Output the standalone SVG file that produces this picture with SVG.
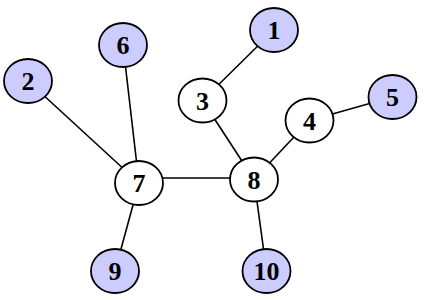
<svg xmlns="http://www.w3.org/2000/svg" width="424" height="300" viewBox="0 0 424 300">
<style>
.e{stroke:#000;stroke-width:1.6;fill:none}
.n ellipse{stroke:#000;stroke-width:1.8;fill:#fff}
.n.b ellipse{fill:#ccccff}
.n text{font-family:"Liberation Serif",serif;font-weight:bold;font-size:26px;text-anchor:middle}
</style>
<rect width="424" height="300" fill="#fff"/>
<g id="edges">
<line class="e" x1="28" y1="81" x2="139" y2="183"/>
<line class="e" x1="123" y1="45" x2="139" y2="183"/>
<line class="e" x1="274" y1="30" x2="202.5" y2="100.5"/>
<line class="e" x1="202.5" y1="100.5" x2="254" y2="179.5"/>
<line class="e" x1="139" y1="178" x2="254" y2="178"/>
<line class="e" x1="309.5" y1="120.5" x2="254" y2="179.5"/>
<line class="e" x1="309.5" y1="120.5" x2="392.5" y2="97"/>
<line class="e" x1="139" y1="183" x2="115" y2="271"/>
<line class="e" x1="254" y1="179.5" x2="266.5" y2="271"/>
</g>
<g id="n1" class="n b"><ellipse cx="274" cy="30" rx="24" ry="22"/><text x="274" y="39">1</text></g>
<g id="n2" class="n b"><ellipse cx="28" cy="81" rx="24" ry="22"/><text x="28" y="90">2</text></g>
<g id="n3" class="n"><ellipse cx="202.5" cy="100.5" rx="24" ry="22"/><text x="202.5" y="109.5">3</text></g>
<g id="n4" class="n"><ellipse cx="309.5" cy="120.5" rx="24" ry="22"/><text x="309.5" y="129.5">4</text></g>
<g id="n5" class="n b"><ellipse cx="392.5" cy="97" rx="24" ry="22"/><text x="392.5" y="106">5</text></g>
<g id="n6" class="n b"><ellipse cx="123" cy="45" rx="24" ry="22"/><text x="123" y="54">6</text></g>
<g id="n7" class="n"><ellipse cx="139" cy="183" rx="24" ry="22"/><text x="139" y="192">7</text></g>
<g id="n8" class="n"><ellipse cx="254" cy="179.5" rx="24" ry="22"/><text x="254" y="188.5">8</text></g>
<g id="n9" class="n b"><ellipse cx="115" cy="271" rx="24" ry="22"/><text x="115" y="280">9</text></g>
<g id="n10" class="n b"><ellipse cx="266.5" cy="271" rx="24" ry="22"/><text x="266.5" y="280">10</text></g>
</svg>
